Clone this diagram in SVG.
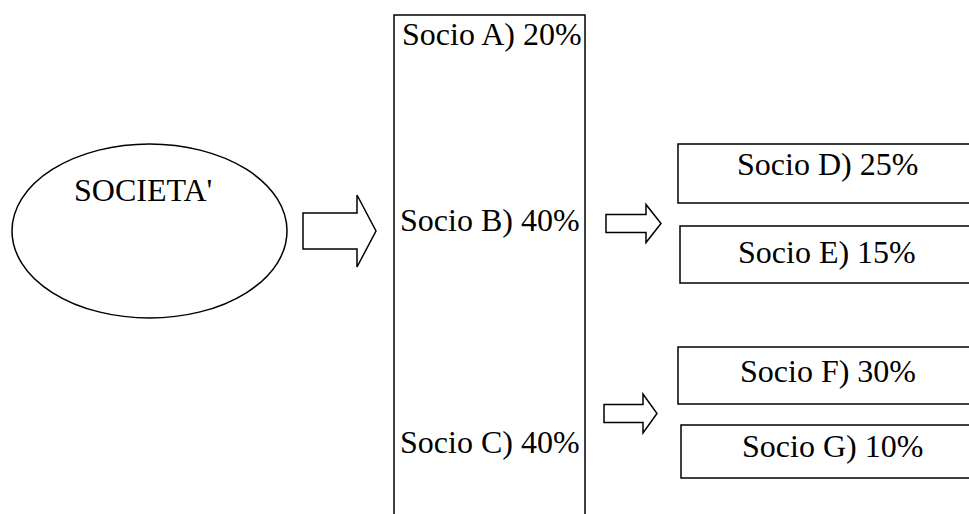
<svg xmlns="http://www.w3.org/2000/svg" width="969" height="514" viewBox="0 0 969 514">
<style>
.s{fill:#fff;stroke:#000;stroke-width:1.5}
.t{font-family:"Liberation Serif","Times New Roman",serif;font-size:32px;fill:#000}
</style>
<rect width="969" height="514" fill="#fff"/>
<g id="societa">
<ellipse class="s" cx="149.5" cy="231" rx="137.5" ry="87"/>
<text class="t" x="74" y="201">SOCIETA'</text>
</g>
<g id="soci-abc">
<rect class="s" x="394" y="15" width="191" height="520"/>
<text class="t" x="402" y="45">Socio A) 20%</text>
<text class="t" x="400" y="231">Socio B) 40%</text>
<text class="t" x="400" y="453">Socio C) 40%</text>
</g>
<g id="socio-d">
<rect class="s" x="678" y="144" width="300" height="59"/>
<text class="t" x="737" y="175">Socio D) 25%</text>
</g>
<g id="socio-e">
<rect class="s" x="680" y="226" width="300" height="57"/>
<text class="t" x="738" y="263">Socio E) 15%</text>
</g>
<g id="socio-f">
<rect class="s" x="678" y="347" width="300" height="57"/>
<text class="t" x="740" y="382">Socio F) 30%</text>
</g>
<g id="socio-g">
<rect class="s" x="681" y="425" width="300" height="53"/>
<text class="t" x="742" y="457">Socio G) 10%</text>
</g>
<g id="connectors">
<polygon class="s" points="303,213 357,213 357,195 376,231 357,267 357,249 303,249"/>
<polygon class="s" points="606,214.5 646,214.5 646,204.5 661,223.5 646,242.5 646,232.5 606,232.5"/>
<polygon class="s" points="604,404.5 643,404.5 643,394 657,413.5 643,433 643,422.5 604,422.5"/>
</g>
</svg>
